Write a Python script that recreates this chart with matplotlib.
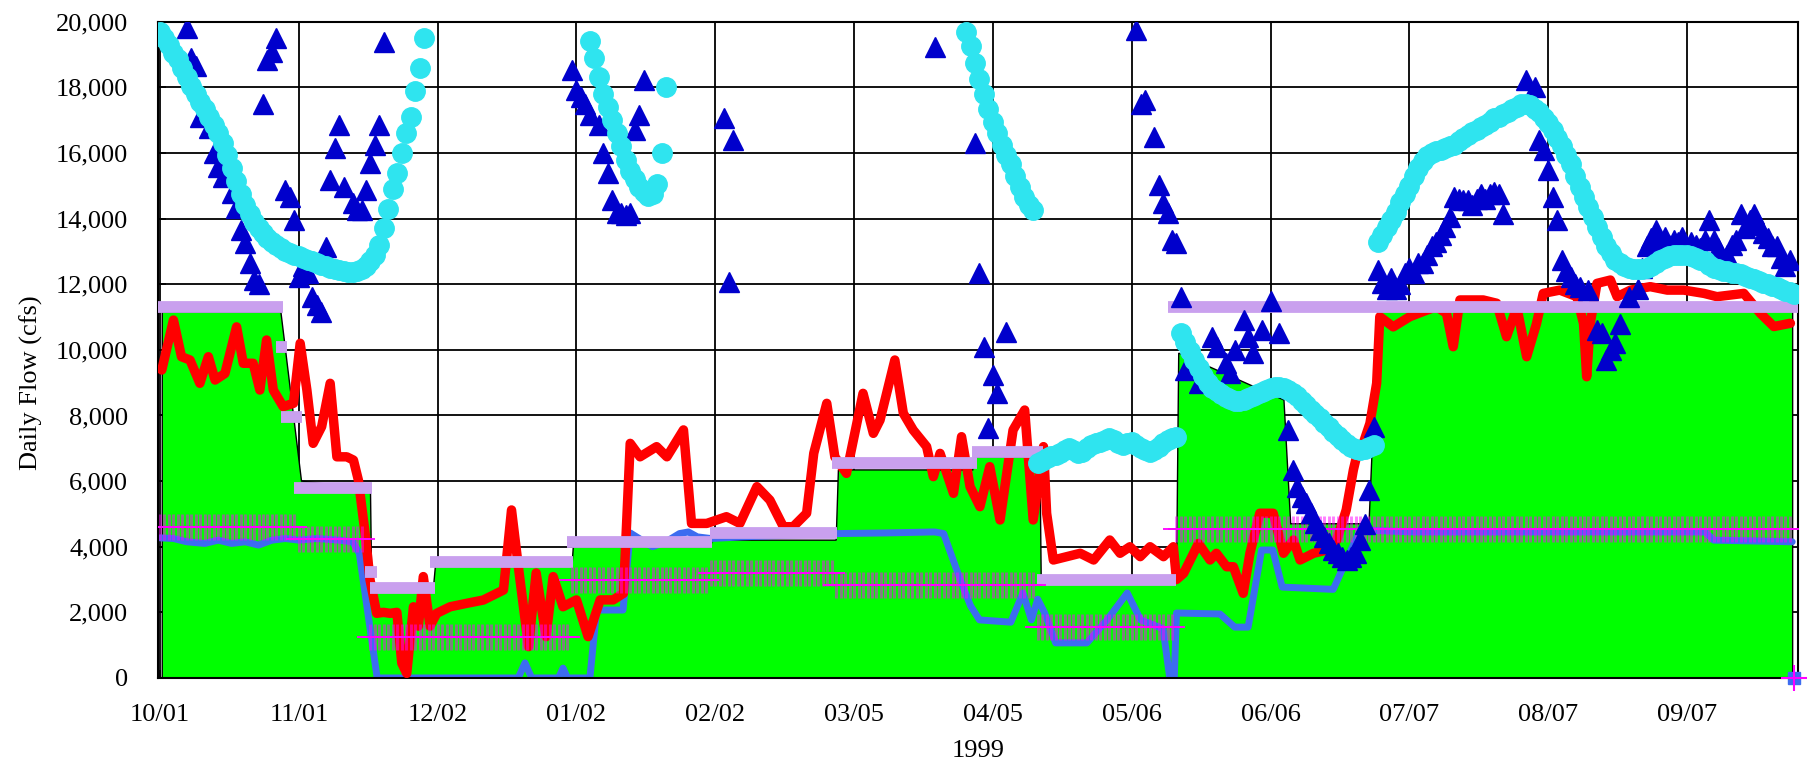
import numpy as np
import pandas as pd
import matplotlib
matplotlib.use("Agg")
import matplotlib.pyplot as plt
import matplotlib.dates as mdates
from matplotlib.ticker import FuncFormatter

plt.rcParams['font.family'] = ['Liberation Serif', 'DejaVu Serif']
plt.rcParams['xtick.direction'] = 'in'
plt.rcParams['ytick.direction'] = 'in'

START = pd.Timestamp('1998-10-01')          # day offsets below are counted from here
X_END_DAYS = 365.8
X_BEGIN_DAYS = -0.45

x_tick_dates = ['1998-10-01', '1998-11-01', '1998-12-02', '1999-01-02', '1999-02-02', '1999-03-05',
                '1999-04-05', '1999-05-06', '1999-06-06', '1999-07-07', '1999-08-07', '1999-09-07']
y_ticks = [0, 2000, 4000, 6000, 8000, 10000, 12000, 14000, 16000, 18000, 20000]
x_title = '1999'
y_title = 'Daily Flow (cfs)'

# ---- green area (day offset, cfs)
green_days = [0.5, 0.5, 27, 31.6, 47, 47.3, 61, 61.5, 92, 92.3, 123, 123.3, 151, 151.5, 181.5, 181.8,
              196.5, 196.8, 227, 227.5, 251, 252.5, 270, 272, 364.6, 364.6]
green_values = [0, 11150, 11150, 6000, 5750, 2650, 2650, 3400, 3400, 4000, 4000, 4200, 4200, 6340, 6340,
                6730, 6730, 2900, 2900, 9900, 8470, 4700, 4700, 11200, 11200, 0]

# ---- lavender target segments
lav_start = [-0.7, 26, 27, 30, 45.8, 47, 60.3, 91, 122.8, 150, 181.3, 195.8, 225]
lav_end = [27.5, 28.4, 31.7, 47.3, 48.5, 61.4, 92.2, 123.3, 151.2, 182.5, 197.2, 227, 365.8]
lav_value = [11300, 10090, 7950, 5790, 3230, 2740, 3530, 4140, 4420, 6550, 6890, 2990, 11300]

# ---- daily "+" series, constant over each period
plus_start = [0, 31, 47, 92, 123, 151, 196, 227]
plus_end = [30, 45, 91, 122, 150, 195, 226, 364]
plus_value = [4600, 4240, 1250, 2990, 3200, 2830, 1540, 4550]
end_point_day = [365]
end_point_value = [0]

# ---- blue line
blue_days = [0, 3, 6, 10, 13, 16, 19, 22, 25, 28, 31, 35, 40, 43, 44.5, 48.5, 80, 81.5, 83, 89, 90, 91,
             96, 97.5, 103.4, 105, 107, 110, 113, 116, 118, 120, 123, 130, 140, 151, 162, 173, 175,
             178.7, 181, 183, 190, 192.7, 194.6, 196, 197.5, 200, 207, 211.5, 216, 219, 224, 225.5,
             226.5, 227, 236.7, 240, 243, 246, 248.5, 250.6, 262, 268, 280, 345, 347, 364.5]
blue_values = [4270, 4250, 4150, 4100, 4200, 4100, 4150, 4050, 4200, 4250, 4200, 4250, 4200, 4150, 3800,
               0, 0, 460, 0, 0, 300, 0, 0, 2070, 2070, 4420, 4250, 4000, 4150, 4400, 4450, 4300, 4250,
               4300, 4350, 4400, 4420, 4450, 4400, 3000, 2200, 1770, 1700, 2590, 1770, 2400, 2000, 1070,
               1070, 1770, 2590, 1770, 1500, 0, 0, 1980, 1950, 1550, 1550, 3900, 3900, 2770, 2700, 4510,
               4450, 4450, 4200, 4150]

# ---- red line
red_days = [0.4, 3, 4.8, 6.7, 8.9, 10.8, 12.3, 14.5, 17.1, 18.6, 20.8, 22.3, 23.8, 25.3, 27.5, 29.8,
            31.3, 32.8, 34.2, 36.1, 38, 39.5, 41.7, 43.2, 44.3, 45.8, 46.9, 48.4, 49.9, 51.4, 52.9, 54,
            55.1, 56.6, 57.7, 58.8, 60.3, 61.8, 64.8, 68.5, 72.2, 75.2, 76.7, 78.5, 80.2, 82.3, 84,
            86.2, 87.8, 90, 93, 95.6, 98.3, 101.2, 103.5, 105, 107.2, 110.9, 113.2, 116.9, 118.7, 122.1,
            126.5, 129.5, 133.3, 136.2, 139.2, 141.4, 144.4, 146, 148.9, 150.7, 153.3, 157, 159.3,
            160.8, 164.1, 166, 168.2, 171.2, 172.7, 174.2, 177.2, 179, 180.9, 183.1, 185.3, 187.6,
            190.5, 193.1, 195, 197.3, 198, 199.5, 202.5, 205.5, 208.5, 212.1, 214.4, 216.6, 218.9,
            221.1, 224.1, 226.3, 227, 228.6, 231.9, 234.5, 235.9, 238.2, 239.7, 241.9, 243.4, 245.6,
            248.6, 250.9, 253.1, 254.6, 257.6, 260.6, 262.8, 264.9, 266.5, 267.2, 268.7, 270.2, 271.7,
            272.4, 275.4, 279.1, 282.9, 285.1, 287.3, 288.8, 290.3, 295.5, 298.5, 300.7, 303, 305.2,
            307.4, 308.9, 312.6, 316.4, 317.9, 318.6, 319.4, 320.9, 323.9, 325.4, 328.4, 332.8, 336.6,
            340.3, 344.8, 347.7, 353.7, 357.4, 360.4, 364.1]
red_values = [9385, 10908, 9790, 9690, 8980, 9790, 9080, 9280, 10700, 9590, 9590, 8775, 10300, 8775,
              8270, 8370, 10200, 8775, 7150, 7660, 8980, 6740, 6740, 6640, 6030, 4410, 2990, 1970, 2000,
              1970, 2000, 450, 140, 2170, 1580, 3090, 1580, 1970, 2170, 2275, 2375, 2580, 2680, 5120,
              3200, 955, 3200, 1260, 3090, 2170, 2380, 1260, 2380, 2380, 2580, 7150, 6740, 7050, 6740,
              7560, 4710, 4710, 4915, 4710, 5830, 5420, 4610, 4610, 5020, 6850, 8370, 6740, 6235, 8675,
              7455, 7860, 9690, 8065, 7556, 7050, 6135, 6845, 5627, 7353, 5830, 5220, 6440, 4815, 7556,
              8166, 4815, 7050, 5020, 3595, 3697, 3800, 3595, 4205, 3800, 4000, 3697, 4000, 3697, 4000,
              3000, 3190, 4100, 3595, 3800, 3390, 3390, 2580, 3800, 5020, 5020, 3800, 4205, 3595, 3800,
              3900, 4205, 5120, 6340, 6745, 7150, 7760, 8980, 11010, 10700, 11010, 11210, 11315, 11110,
              10095, 11520, 11520, 11420, 10400, 11300, 9790, 10800, 11720, 11820, 11620, 10800, 9180,
              10800, 12025, 12127, 11620, 11820, 11925, 11820, 11820, 11720, 11620, 11720, 11110, 10710,
              10810]

# ---- blue triangles (day offset, cfs)
tri_days = [6, 7, 8, 9, 11, 12, 13, 14, 16, 17, 18, 19, 20, 21, 22, 23, 24, 25, 26, 28, 29, 30, 31, 32,
            33, 34, 35, 36, 37, 38, 39, 40, 41, 43, 44, 45, 46, 47, 48, 49, 50,
            92, 93, 94, 95, 96, 98, 99, 100, 101, 102, 103, 104, 105, 106, 107, 108, 126, 127, 128,
            173, 182, 183, 184, 185, 186, 187, 189,
            218, 219, 220, 222, 223, 224, 225, 226, 227, 228, 229, 232, 235, 236, 238, 239, 240, 242,
            243, 244, 246, 248, 250, 252, 253, 254, 255, 256, 257, 258, 259, 260, 261, 262, 263, 264,
            265, 266, 267, 268, 269, 270, 271, 272, 273, 274, 275, 276, 277, 278, 279, 280, 281, 282,
            283, 284, 285, 286, 287, 288, 289, 290, 291, 292, 293, 294, 295, 296, 297, 298, 299, 300,
            305, 307, 308, 309, 310, 311, 312, 313, 314, 315, 316, 317, 319, 321, 322, 323, 324, 325,
            326, 328, 330, 331, 332, 333, 334, 335, 336, 337, 338, 339, 340, 341, 342, 343, 344, 345,
            346, 347, 348, 349, 350, 351, 352, 353, 354, 355, 356, 357, 358, 359, 360, 361, 362, 363, 364]
tri_values = [19800, 18880, 18650, 17100, 16760, 16000, 15580, 15275, 14780, 14320, 13650, 13250, 12640,
              12130, 12000, 17500, 18830, 19080, 19500, 14870, 14660, 13950, 12220, 12540, 12330, 11600,
              11360, 11160, 13140, 15170, 16140, 16850, 14970, 14460, 14250, 14250, 14870, 15680, 16240,
              16850, 19390,
              18525, 17915, 17710, 17500, 17150, 16850, 15990, 15380, 14560, 14170, 14170, 14100, 14170,
              16700, 17150, 18220, 17060, 12070, 16390,
              19240, 16290, 12330, 10090, 7620, 9230, 8680, 10550,
              19750, 17500, 17610, 16500, 15020, 14460, 14170, 13340, 13250, 11620, 9390, 8980, 10400,
              10100, 9600, 9290, 9990, 10900, 10400, 9900, 10600, 11480, 10500, 7560, 6340, 5830, 5520,
              5330, 5020, 4720, 4500, 4310, 4100, 3900, 3800, 3700, 3600, 3700, 3800, 4200, 4700, 5730,
              7650, 12430, 12030, 11840, 12200, 11840, 12000, 12330, 12500, 12330, 12640, 12640, 12900,
              13150, 13300, 13500, 13750, 14050, 14660, 14600, 14560, 14560, 14400, 14600, 14760, 14600,
              14760, 14800, 14760, 14150, 18220, 18000, 16390, 16080, 15480, 14660, 13950, 12740, 12400,
              12230, 12000, 11920, 11820, 10600, 10500, 9690, 10000, 10200, 10800, 11620, 11840, 12500,
              13150, 13400, 13650, 13300, 13450, 13200, 13350, 13300, 13450, 13100, 13300, 13200, 13100,
              13350, 13950, 13350, 13100, 12740, 12900, 13200, 13350, 14150, 13700, 13950, 14150, 13800,
              13550, 13400, 13150, 13150, 12800, 12540, 12740]

# ---- cyan circles: daily values, one list per run of days
cyan_run_start = [0, 96, 180, 196, 228, 272]
cyan_run_values = [
    [19700, 19500, 19300, 19050, 18850, 18600, 18300, 18050, 17800, 17550,
     17350, 17100, 16850, 16600, 16300, 15950, 15550, 15150, 14750, 14400,
     14150, 13900, 13700, 13550, 13400, 13300, 13200, 13100, 13000, 12950,
     12900, 12850, 12800, 12750, 12700, 12650, 12600, 12550, 12500, 12470,
     12430, 12400, 12380, 12380, 12400, 12450, 12550, 12700, 12900, 13200,
     13700, 14300, 14900, 15400, 16000, 16600, 17100, 17900, 18600, 19500],
    [19400, 18900, 18300, 17800, 17400, 17000, 16600, 16200, 15800, 15450,
     15200, 14950, 14800, 14700, 14750, 15050, 16000, 18000],
    [19700, 19250, 18750, 18250, 17800, 17350, 16950, 16600, 16250, 15950,
     15650, 15300, 14950, 14650, 14400, 14250],
    [6550, 6600, 6700, 6750, 6800, 6850, 6950, 7000, 6950, 6850,
     6900, 7000, 7100, 7150, 7200, 7250, 7300, 7250, 7150, 7100,
     7150, 7200, 7100, 7000, 6950, 6900, 6950, 7050, 7150, 7250, 7300, 7350],
    [10500, 10250, 9950, 9700, 9450, 9200, 9000, 8850, 8750, 8650,
     8550, 8500, 8450, 8450, 8480, 8520, 8580, 8650, 8720, 8780,
     8830, 8870, 8880, 8850, 8770, 8680, 8580, 8450, 8320, 8180,
     8050, 7920, 7780, 7650, 7500, 7380, 7250, 7120, 7030, 6970,
     6950, 6970, 7030, 7100],
    [13300, 13500, 13750, 13950, 14200, 14500, 14750, 15000, 15300, 15550,
     15750, 15900, 16000, 16050, 16100, 16150, 16200, 16250, 16350, 16450,
     16550, 16650, 16700, 16800, 16850, 16950, 17050, 17100, 17200, 17250,
     17350, 17400, 17500, 17500, 17450, 17350, 17250, 17050, 16900, 16700,
     16450, 16200, 15950, 15650, 15300, 14950, 14650, 14350, 14050, 13750,
     13450, 13150, 12950, 12750, 12650, 12550, 12500, 12450, 12450, 12450,
     12500, 12550, 12650, 12750, 12800, 12850, 12900, 12900, 12900, 12900,
     12850, 12800, 12750, 12700, 12600, 12500, 12450, 12400, 12400, 12350,
     12350, 12300, 12250, 12200, 12150, 12100, 12050, 12000, 11950, 11900,
     11850, 11800, 11750, 11700],
]


def to_dates(days):
    return START + pd.to_timedelta(np.asarray(days, dtype=float), unit='D')


GREEN = '#00ff00'
RED = '#ff0000'
BLUE = '#3d6cf0'
LAV = '#c9a0ee'
MAG = '#ff00ff'
TRI = '#0000cc'
CYAN = '#2fe4ef'

fig = plt.figure(figsize=(18.16, 7.64), dpi=100)
ax = fig.add_axes([0.0870, 0.1126, 0.9031, 0.8590])
ax.set_axisbelow(True)
ax.grid(True, color='black', linewidth=1.3)

# green area
ax.fill(to_dates(green_days), green_values, facecolor=GREEN, edgecolor='black', linewidth=1.0, zorder=1)

# blue line
ax.plot(to_dates(blue_days), blue_values, color=BLUE, linewidth=5.0, solid_joinstyle='round',
        solid_capstyle='round', zorder=2)

# red line
ax.plot(to_dates(red_days), red_values, color=RED, linewidth=6.8, solid_joinstyle='round',
        solid_capstyle='round', zorder=3)

# lavender segments
for s, e, v in zip(lav_start, lav_end, lav_value):
    ax.plot(to_dates([s, e]), [v, v], color=LAV, linewidth=8.5, solid_capstyle='butt', zorder=4)

# daily "+" markers
for s, e, v in zip(plus_start, plus_end, plus_value):
    d = np.arange(s, e + 1)
    vals = np.full(len(d), v)
    ax.plot(to_dates(d), vals, ls='none', marker='|', ms=19, mew=2.1, color=MAG, alpha=0.5, zorder=5)
    ax.plot(to_dates(d), vals, ls='none', marker='_', ms=19, mew=1.3, color=MAG, zorder=5)
ax.plot(to_dates(end_point_day), end_point_value, ls='none', marker='s', ms=8, color=BLUE,
        zorder=5, clip_on=False)
ax.plot(to_dates(end_point_day), end_point_value, ls='none', marker='+', ms=19, mew=1.5, color=MAG,
        zorder=5, clip_on=False)

# triangles
ax.plot(to_dates(tri_days), tri_values, ls='none', marker='^', ms=14, color=TRI, mec=TRI, zorder=6)

# cyan circles
for s, vals in zip(cyan_run_start, cyan_run_values):
    d = s + np.arange(len(vals))
    ax.plot(to_dates(d), vals, ls='none', marker='o', ms=14, color=CYAN, mec=CYAN, zorder=7)

ax.set_xlim(to_dates([X_BEGIN_DAYS])[0], to_dates([X_END_DAYS])[0])
ax.set_ylim(0, 20000)
ax.set_yticks(y_ticks)
ax.yaxis.set_major_formatter(FuncFormatter(lambda v, p: f'{int(v):,}'))
ax.set_xticks(pd.to_datetime(x_tick_dates))
ax.xaxis.set_major_formatter(mdates.DateFormatter('%m/%d'))

ax.tick_params(axis='x', direction='in', length=6, width=1.2, colors='black', labelsize=19, pad=19)
ax.tick_params(axis='y', direction='in', length=6, width=1.2, colors='black', labelsize=19, pad=21.5)
for sp in ax.spines.values():
    sp.set_linewidth(1.5)
    sp.set_color('black')

ax.set_xlabel(x_title, fontsize=19, labelpad=10)
ax.set_ylabel(y_title, fontsize=19)
ax.yaxis.set_label_coords(-0.070, 0.45)

fig.savefig('out.png', dpi=100)
